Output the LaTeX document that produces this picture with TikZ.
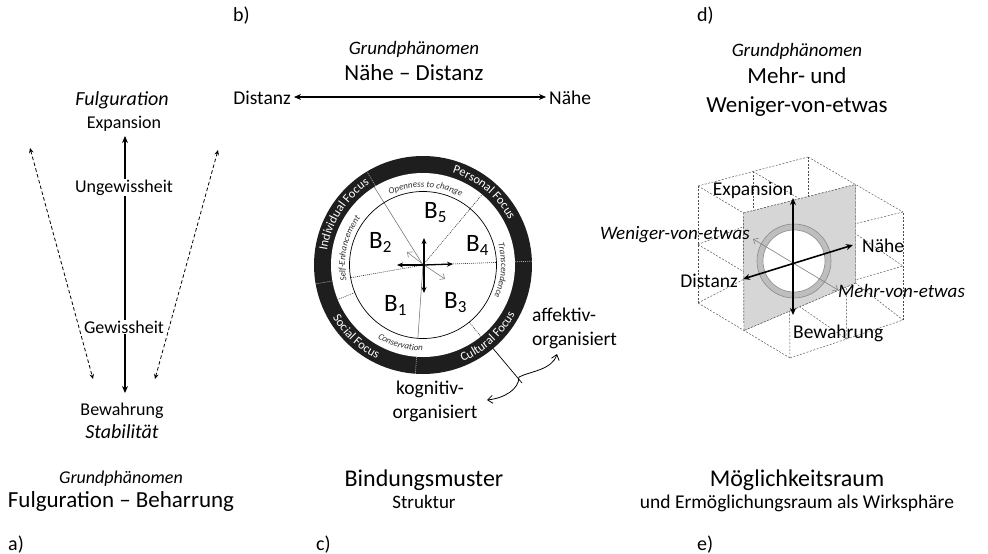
\documentclass[tikz,border=0pt]{standalone}
\usepackage{fontspec}
\setmainfont{Carlito}
\usetikzlibrary{arrows.meta,decorations.text,calc}
\definecolor{ringdark}{HTML}{1E1E1E}
\definecolor{planegrey}{HTML}{D6D6D6}
\definecolor{ringgrey}{HTML}{BEBEBE}
\definecolor{edgegrey}{HTML}{8A8A8A}
\definecolor{bandtext}{HTML}{303030}

\begin{document}
\begin{tikzpicture}[x=1pt,y=-1pt,
  lbl/.style={inner sep=0pt, anchor=base, font=\fontsize{#1}{#1}\selectfont},
  lbl/.default=18,
  ilbl/.style={inner sep=0pt, anchor=base, font=\fontsize{#1}{#1}\selectfont\itshape},
  ilbl/.default=19,
  axis/.style={line width=1.8pt, {Stealth[length=7pt,width=6pt]}-{Stealth[length=7pt,width=6pt]}},
  dashaxis/.style={line width=0.8pt, dash pattern=on 3.5pt off 2.5pt,
    {Stealth[length=5pt,width=4.5pt]}-{Stealth[length=5pt,width=4.5pt]}},
  thinaxis/.style={draw=gray, line width=0.6pt,
    {Straight Barb[length=4pt,width=7pt]}-{Straight Barb[length=4pt,width=7pt]}},
  gridline/.style={draw=black!70, line width=0.45pt, dash pattern=on 2pt off 1.5pt},
  ringtext/.style={decorate, decoration={text along path, text align=center,
    text color=white, text={|\fontsize{12.5}{12.5}\selectfont|#1}}},
  bandtxt/.style={decorate, decoration={text along path, text align=center,
    text color=bandtext, text={|\fontsize{9}{9}\selectfont\itshape|#1}}},
  innerdiv/.style={draw=black!60, line width=0.5pt},
  dotdiv/.style={draw=black!80, line width=0.6pt, dash pattern=on 1pt off 1pt},
  ringdiv/.style={draw=black!35, line width=0.7pt, dash pattern=on 1pt off 1pt},
  curvarrow/.style={line width=0.8pt, -{Straight Barb[length=5pt,width=8pt]}},
  blabel/.style={inner sep=0pt, anchor=base west, font=\fontsize{25}{25}\selectfont},
]
\useasboundingbox (0,0) rectangle (988,554);

% ---------------- a) Fulguration -- Beharrung ----------------
\coordinate (aTop) at (125,136);
\coordinate (aBot) at (125,393);
\coordinate (aL1) at (30,148);
\coordinate (aL2) at (93,379);
\coordinate (aR1) at (218,150);
\coordinate (aR2) at (155,379);
\draw[axis] (aTop) -- (aBot);
\draw[dashaxis] (aL1) -- (aL2);
\draw[dashaxis] (aR1) -- (aR2);
\node[ilbl=20] (aFul) at (122,105) {Fulguration};
\node[lbl] (aExp) at (124,128) {Expansion};
\node[lbl, fill=white, inner sep=1pt] (aUng) at (124,192) {Ungewissheit};
\node[lbl, fill=white, inner sep=1pt] (aGew) at (124,333) {Gewissheit};
\node[lbl] (aBew) at (122,415) {Bewahrung};
\node[ilbl=20] (aSta) at (122,438) {Stabilität};
\node[ilbl=18] (aGP) at (121,483) {Grundphänomen};
\node[lbl=23] (aTitle) at (121,507) {Fulguration – Beharrung};
\node[lbl=20, anchor=base west] (aTag) at (8,550) {a)};

% ---------------- b) Naehe -- Distanz ----------------
\node[lbl=20, anchor=base west] (bTag) at (233,21) {b)};
\node[ilbl] (bGP) at (414,54) {Grundphänomen};
\node[lbl=23] (bTitle) at (414,80) {Nähe – Distanz};
\node[lbl=19.5, anchor=base east] (bDist) at (291,104) {Distanz};
\node[lbl=19.5, anchor=base west] (bNah) at (549,104) {Nähe};
\coordinate (bL) at (294,97);
\coordinate (bR) at (546,97);
\draw[axis, line width=1.6pt] (bL) -- (bR);

% ---------------- c) Bindungsmuster ----------------
\begin{scope}[shift={(423,265)}, x=1pt, y=1pt]
  \fill[ringdark] (0,0) circle (109);
  \fill[white] (0,0) circle (92);
  % sector lines of the inner circle
  \draw[innerdiv] (0,0) -- (122:92);
  \draw[dotdiv] (0,0) -- (50:92);
  \draw[dotdiv] (0,0) -- (2:73.5);
  \draw[dotdiv] (0,0) -- (190:73.5);
  \draw[innerdiv] (0,0) -- (266:73.5);
  % dividers of the value band
  \draw[dotdiv] (-51:73.5) -- (-51:92);
  \draw[dotdiv] (202:73.5) -- (202:92);
  % dividers of the focus ring
  \draw[ringdiv] (121:92) -- (121:109);
  \draw[ringdiv] (2:92) -- (2:109);
  \draw[ringdiv] (266:92) -- (266:109);
  \draw[ringdiv] (190:92) -- (190:109);
  \draw[line width=0.7pt] (0,0) circle (73.5);
  % focus ring labels
  \path[ringtext={Individual Focus}] (185:97) arc[start angle=185, end angle=110, radius=97];
  \path[ringtext={Personal Focus}] (90:97) arc[start angle=90, end angle=10, radius=97];
  \path[ringtext={Cultural Focus}] (-88:104.5) arc[start angle=-88, end angle=-8, radius=104.5];
  \path[ringtext={Social Focus}] (187:104.5) arc[start angle=187, end angle=267, radius=104.5];
  % value band labels
  \path[bandtxt={Openness  to change}] (128:78) arc[start angle=128, end angle=48, radius=78];
  \path[bandtxt={Transcendence}] (36:78) arc[start angle=36, end angle=-44, radius=78];
  \path[bandtxt={Conservation}] (214:86) arc[start angle=214, end angle=294, radius=86];
  \path[bandtxt={Self-Enhancement}] (207:78) arc[start angle=207, end angle=128, radius=78];
  % lead line to the two organisation modes
  \coordinate (cRim) at (-50:109);
  \coordinate (cEnd) at (-50:154);
\end{scope}
\draw[line width=0.7pt] (cRim) -- (cEnd);
\coordinate (cFork) at (519,377);
\coordinate (cAff) at (557,354);
\coordinate (cKog) at (487,400);
\draw[curvarrow] (cFork) .. controls (531,371) and (552,370) .. (cAff);
\draw[curvarrow] (cFork) .. controls (519,389) and (505,398) .. (cKog);

% centre arrows
\coordinate (cC) at (424,265);
\coordinate (cUp) at (424,238);
\coordinate (cDn) at (424,293);
\coordinate (cLt) at (397,265);
\coordinate (cRt) at (453,264);
\coordinate (cUL) at (407,252);
\coordinate (cLR) at (445,279);
\draw[thinaxis, -{Straight Barb[length=4pt,width=7pt]}] (cC) -- (cUL);
\draw[thinaxis, -{Straight Barb[length=4pt,width=7pt]}] (cC) -- (cLR);
\draw[line width=1.3pt, -{Stealth[length=6pt,width=5pt]}] (cC) -- (cUp);
\draw[line width=1.3pt, -{Stealth[length=6pt,width=5pt]}] (cC) -- (cDn);
\draw[line width=1.3pt, -{Stealth[length=6pt,width=5pt]}] (cC) -- (cLt);
\draw[line width=1.3pt, -{Stealth[length=6pt,width=5pt]}] (cC) -- (cRt);

% sector names
\node[blabel] (B5) at (424,218) {B\raisebox{-4.5pt}{\fontsize{17}{17}\selectfont 5}};
\node[blabel] (B2) at (369,248) {B\raisebox{-4.5pt}{\fontsize{17}{17}\selectfont 2}};
\node[blabel] (B4) at (466,251) {B\raisebox{-4.5pt}{\fontsize{17}{17}\selectfont 4}};
\node[blabel] (B1) at (384,311) {B\raisebox{-4.5pt}{\fontsize{17}{17}\selectfont 1}};
\node[blabel] (B3) at (444,308) {B\raisebox{-4.5pt}{\fontsize{17}{17}\selectfont 3}};

\node[lbl=19.5, anchor=base west] (cAffT) at (532,321) {affektiv-};
\node[lbl=19.5, anchor=base west] (cAffT2) at (532,345) {organisiert};
\node[lbl=19.5] (cKogT) at (430,394) {kognitiv-};
\node[lbl=19.5] (cKogT2) at (435,418) {organisiert};

\node[lbl=24] (cTitle) at (424,486) {Bindungsmuster};
\node[lbl=19] (cSub) at (424,508) {Struktur};
\node[lbl=20, anchor=base west] (cTag) at (316,550) {c)};

% ---------------- d) Mehr- und Weniger-von-etwas ----------------
\node[lbl=20, anchor=base west] (dTag) at (697,21) {d)};
\node[ilbl] (dGP) at (797,56) {Grundphänomen};
\node[lbl=23] (dT1) at (797,83) {Mehr- und};
\node[lbl=23] (dT2) at (797,112) {Weniger-von-etwas};

% corners of the subdivided cube, q<u><v><w> with 0/1/2 = low/mid/high
\coordinate (q000) at (698,303);
\coordinate (q020) at (698,186);
\coordinate (q002) at (790,358);
\coordinate (q022) at (789,240);
\coordinate (q200) at (808,246);
\coordinate (q220) at (808,157);
\coordinate (q202) at (903,320);
\coordinate (q222) at (903,212);
% edge midpoints
\coordinate (q100) at ($(q000)!0.5!(q200)$);
\coordinate (q120) at ($(q020)!0.5!(q220)$);
\coordinate (q102) at ($(q002)!0.5!(q202)$);
\coordinate (q122) at ($(q022)!0.5!(q222)$);
\coordinate (q010) at ($(q000)!0.5!(q020)$);
\coordinate (q210) at ($(q200)!0.5!(q220)$);
\coordinate (q012) at ($(q002)!0.5!(q022)$);
\coordinate (q212) at ($(q202)!0.5!(q222)$);
\coordinate (q001) at ($(q000)!0.5!(q002)$);
\coordinate (q021) at ($(q020)!0.5!(q022)$);
\coordinate (q201) at ($(q200)!0.5!(q202)$);
\coordinate (q221) at ($(q220)!0.5!(q222)$);
% face centres
\coordinate (q011) at ($(q010)!0.5!(q012)$);
\coordinate (q211) at ($(q210)!0.5!(q212)$);
\coordinate (q101) at ($(q001)!0.5!(q201)$);
\coordinate (q121) at ($(q021)!0.5!(q221)$);
\coordinate (q110) at ($(q100)!0.5!(q120)$);
\coordinate (q112) at ($(q102)!0.5!(q122)$);

% wireframe, then the middle plane on top of it
\foreach \p/\q in {0/0,0/1,0/2,1/0,1/2,2/0,2/1,2/2}{
  \draw[gridline] (q0\p\q) -- (q2\p\q);
  \draw[gridline] (q\p0\q) -- (q\p2\q);
  \draw[gridline] (q\p\q0) -- (q\p\q2);
}
\fill[planegrey] (q021) -- (q221) -- (q201) -- (q001) -- cycle;
\draw[gridline] (q021) -- (q221) -- (q201) -- (q001) -- cycle;

\coordinate (eO) at (794,261);
\filldraw[fill=ringgrey, draw=edgegrey, line width=0.6pt] (eO) circle[radius=37pt];
\filldraw[fill=white, draw=edgegrey, line width=0.6pt] (eO) circle[radius=31pt];

\coordinate (eUp) at (793,198);
\coordinate (eDn) at (793,315);
\coordinate (eDist) at (743,279);
\coordinate (eNah) at (853,245);
\coordinate (eWen) at (753,239);
\coordinate (eMehr) at (838,290);
\draw[thinaxis] (eWen) -- (eMehr);
\draw[axis, line width=1.6pt] (eUp) -- (eDn);
\draw[axis, line width=1.6pt] (eDist) -- (eNah);

\node[lbl=19.5] (eExp) at (753,195) {Expansion};
\node[ilbl, anchor=base east] (eWenT) at (750,239) {Weniger-von-etwas};
\node[lbl=19.5, anchor=base west] (eNahT) at (862,252) {Nähe};
\node[lbl=19.5, anchor=base east] (eDistT) at (738,287) {Distanz};
\node[ilbl, anchor=base west] (eMehrT) at (838,297) {Mehr-von-etwas};
\node[lbl=19.5, anchor=base west] (eBewT) at (793,338) {Bewahrung};

% ---------------- e) Moeglichkeitsraum ----------------
\node[lbl=24] (eTitle) at (797,486) {Möglichkeitsraum};
\node[lbl=19.5] (eSub) at (797,508) {und Ermöglichungsraum als Wirksphäre};
\node[lbl=20, anchor=base west] (eTag) at (697,550) {e)};
\end{tikzpicture}
\end{document}
